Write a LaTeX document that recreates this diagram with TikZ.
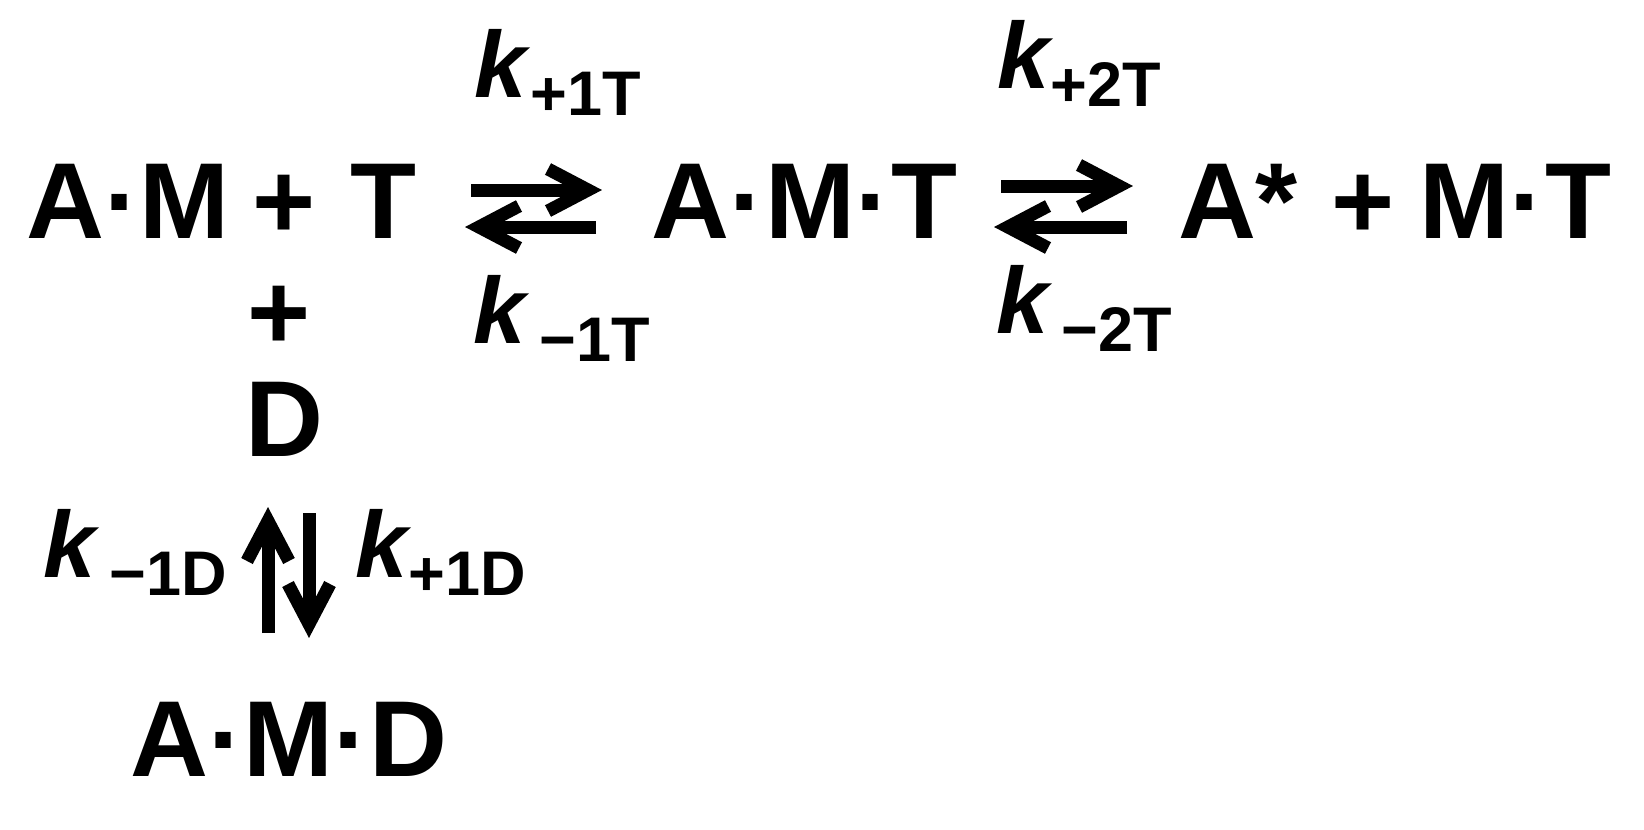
\documentclass[tikz,border=0pt]{standalone}
\usepackage{fontspec}
\setmainfont{Liberation Sans}
\usetikzlibrary{calc}
\newcommand\bigf{\fontsize{108}{108}\selectfont\bfseries}
\newcommand\kf{\fontsize{94}{94}\selectfont\bfseries\itshape}
\newcommand\sbf{\fontsize{63}{63}\selectfont\bfseries}
\newcommand\klab[2]{{\kf k}\hspace{#1pt}\raisebox{-18pt}{\sbf #2}}
\begin{document}
\begin{tikzpicture}[x=1pt,y=-1pt,
  sp/.style={font=\bigf, inner sep=0pt, anchor=base},
  lab/.style={inner sep=0pt, anchor=base west},
  shaft/.style={line width=13pt},
  barb/.style={line width=13pt, line join=miter, miter limit=10}]
\useasboundingbox[fill=white] (0,0) rectangle (1644,830);
% main row
\node[sp] (AM) at (128,238) {A·M};
\node[sp] (p1) at (284,238) {+};
\node[sp] (T) at (383.6,238) {T};
\node[sp] (AMT) at (804.6,238) {A·M·T};
\node[sp] (As) at (1238,238) {A*};
\node[sp] (p2) at (1363.5,238) {+};
\node[sp] (MT) at (1515.4,238) {M·T};
% left column
\node[sp] (p3) at (279.5,349) {+};
\node[sp] (D) at (284,456) {D};
\node[sp] (AMD) at (289,776) {A·M·D};
% rate labels
\node[lab] (kp1T) at (474,97) {\klab{4}{+1T}};
\node[lab] (km1T) at (473,343) {\klab{14}{−1T}};
\node[lab] (kp2T) at (997,88) {\klab{1}{+2T}};
\node[lab] (km2T) at (996,333) {\klab{13}{−2T}};
\node[lab] (km1D) at (43,577) {\klab{14}{−1D}};
\node[lab] (kp1D) at (355,577) {\klab{1}{+1D}};
% arrow end points (tip = barb vertex)
\coordinate (a1s) at (471,190); \coordinate (a1e) at (588,190);
\coordinate (b1s) at (596,227); \coordinate (b1e) at (479,227);
\coordinate (a2s) at (1001,186); \coordinate (a2e) at (1119,186);
\coordinate (b2s) at (1127,227); \coordinate (b2e) at (1008,227);
\coordinate (ups) at (268,633); \coordinate (upe) at (268,521);
\coordinate (dns) at (309,513); \coordinate (dne) at (309,624);
% shafts
\draw[shaft] (a1s) -- (a1e);
\draw[shaft] (b1s) -- (b1e);
\draw[shaft] (a2s) -- (a2e);
\draw[shaft] (b2s) -- (b2e);
\draw[shaft] (ups) -- (upe);
\draw[shaft] (dns) -- (dne);
% heads
\draw[barb] ($(a1e)+(-40,-21)$) -- (a1e) -- ($(a1e)+(-40,21)$);
\draw[barb] ($(b1e)+(40,-21)$) -- (b1e) -- ($(b1e)+(40,21)$);
\draw[barb] ($(a2e)+(-40,-21)$) -- (a2e) -- ($(a2e)+(-40,21)$);
\draw[barb] ($(b2e)+(40,-21)$) -- (b2e) -- ($(b2e)+(40,21)$);
\draw[barb] ($(upe)+(-21,40)$) -- (upe) -- ($(upe)+(21,40)$);
\draw[barb] ($(dne)+(-21,-40)$) -- (dne) -- ($(dne)+(21,-40)$);
\end{tikzpicture}
\end{document}
